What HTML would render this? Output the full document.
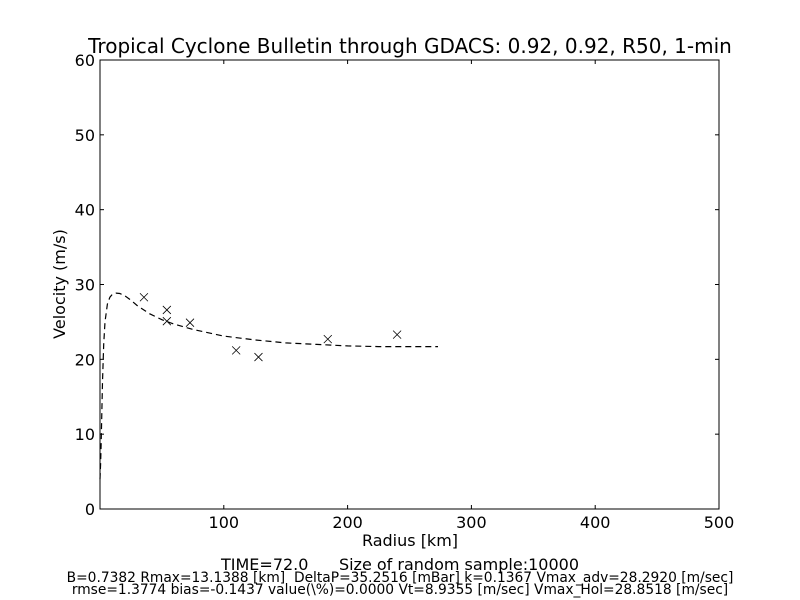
<!DOCTYPE html>
<html><head><meta charset="utf-8"><style>
body{margin:0;background:#fff;}
svg{display:block;font-family:"DejaVu Sans","Liberation Sans",sans-serif;}
text{white-space:pre;}
</style></head><body>
<svg id="chart" width="800" height="600">
<rect width="800" height="600" fill="#fff"/>
<text x="410" y="53" font-size="20" text-anchor="middle">Tropical Cyclone Bulletin through GDACS: 0.92, 0.92, R50, 1-min</text>
<g id="ticks"></g>
<rect x="100" y="60" width="619" height="449" fill="none" stroke="#000" stroke-width="1"/>
<g id="marks"></g>
<text x="410" y="546" font-size="16" text-anchor="middle">Radius [km]</text>
<text transform="translate(65,284) rotate(-90)" font-size="16" text-anchor="middle">Velocity (m/s)</text>
<text x="400" y="570" font-size="16" text-anchor="middle">TIME=72.0      Size of random sample:10000</text>
<text x="400" y="582" font-size="13.8" text-anchor="middle">B=0.7382 Rmax=13.1388 [km]  DeltaP=35.2516 [mBar] k=0.1367 Vmax_adv=28.2920 [m/sec]</text>
<text x="400" y="594" font-size="13.8" text-anchor="middle">rmse=1.3774 bias=-0.1437 value(\%)=0.0000 Vt=8.9355 [m/sec] Vmax_Hol=28.8518 [m/sec]</text>
</svg>
<script>
const xTicks=[100,200,300,400,500];
const yTicks=[0,10,20,30,40,50,60];
const obsR=[35.5,54,54,72.7,110,128,184,240];
const obsV=[28.3,26.6,25.1,24.9,21.2,20.3,22.7,23.3];
const curveR=[0,0.5,1,2,3,4,6,8,10,13,16,20,25,30,40,50,60,75,100,125,150,175,200,225,250,273];
const curveV=[4,6,9,17,22,25,27.4,28.3,28.7,28.85,28.8,28.5,27.9,27.2,26.1,25.3,24.7,24,23.1,22.6,22.2,22.0,21.8,21.7,21.7,21.7];
const X0=100,X1=719,Y0=509,Y1=60;
const sx=v=>X0+v/500*(X1-X0);
const sy=v=>Y0-v/60*(Y0-Y1);
const NS="http://www.w3.org/2000/svg";
const tg=document.getElementById('ticks'),mg=document.getElementById('marks');
function mk(tag,attrs,parent){const e=document.createElementNS(NS,tag);for(const k in attrs)e.setAttribute(k,attrs[k]);parent.appendChild(e);return e;}
xTicks.forEach(t=>{
 const x=sx(t);
 const l1=mk('line',{x1:x,x2:x,y1:Y0,y2:Y0-4,stroke:'#000'},tg);
 
 
 const l2=mk('line',{x1:x,x2:x,y1:Y1,y2:Y1+4,stroke:'#000'},tg);
 
 
 const tx=mk('text',{x:x,y:Y0+19,'font-size':16,'text-anchor':'middle'},tg);tx.textContent=t;
 
 
});
yTicks.forEach(t=>{
 const y=sy(t);
 const l1=mk('line',{x1:X0,x2:X0+4,y1:y,y2:y,stroke:'#000'},tg);
 
 
 const l2=mk('line',{x1:X1,x2:X1-4,y1:y,y2:y,stroke:'#000'},tg);
 
 
 const tx=mk('text',{x:X0-5,y:y+6,'font-size':16,'text-anchor':'end'},tg);tx.textContent=t;
 
 
});
const d=curveR.map((r,i)=>(i?'L':'M')+sx(r).toFixed(1)+' '+sy(curveV[i]).toFixed(1)).join(' ');
const p=mk('path',{d:d,fill:'none',stroke:'#000','stroke-width':1.2,'stroke-dasharray':'6 4'},mg);


obsR.forEach((r,i)=>{
 const x=sx(r),y=sy(obsV[i]),s=4;
 const g=mk('path',{d:`M${x-s} ${y-s}L${x+s} ${y+s}M${x-s} ${y+s}L${x+s} ${y-s}`,stroke:'#000','stroke-width':0.8,fill:'none'},mg);
 
 
});
</script>
</body></html>
